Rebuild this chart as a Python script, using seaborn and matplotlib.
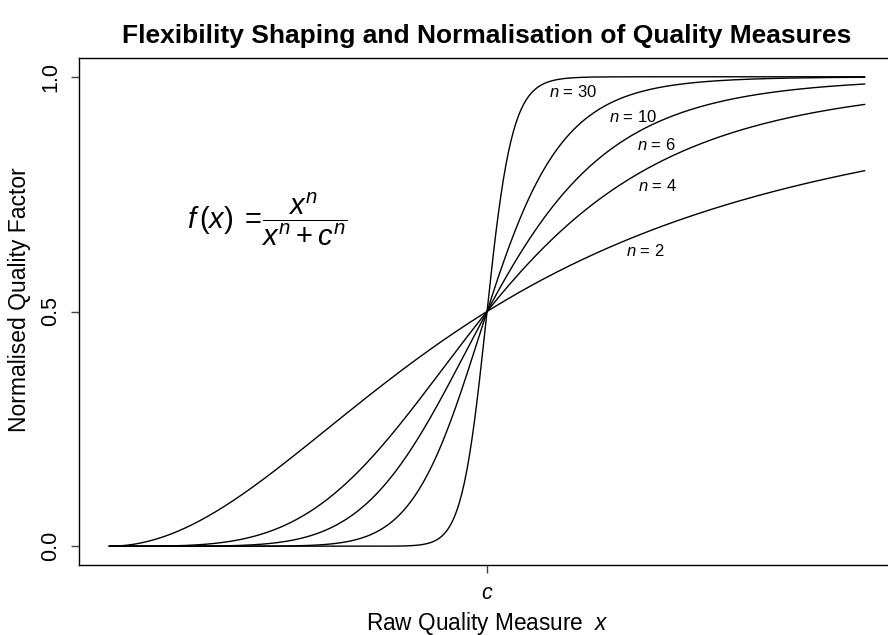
import numpy as np
import pandas as pd
import matplotlib
matplotlib.use("Agg")
import matplotlib.pyplot as plt
import seaborn as sns

# Shaping exponents and the normalisation constant
exponents = [2, 4, 6, 10, 30]
c_value = 1.0
x_tick_labels = ["c"]
y_ticks = [0.0, 0.5, 1.0]
y_tick_labels = ["0.0", "0.5", "1.0"]

# Where each curve's label is centred (data coordinates)
label_pos = {
    30: (1.228, 0.968),
    10: (1.386, 0.915),
    6: (1.447, 0.855),
    4: (1.450, 0.768),
    2: (1.418, 0.629),
}

sns.set_style("white")
plt.rcParams["font.family"] = ["Liberation Sans", "DejaVu Sans"]
plt.rcParams["mathtext.fontset"] = "custom"
plt.rcParams["mathtext.rm"] = "Liberation Sans"
plt.rcParams["mathtext.it"] = "Liberation Sans:italic"
plt.rcParams["mathtext.bf"] = "Liberation Sans:bold"
for key in ["text.color", "axes.labelcolor", "xtick.labelcolor", "ytick.labelcolor"]:
    plt.rcParams[key] = "black"

# Evaluate f(x) = x^n / (x^n + c^n) on [0, 2c]
xs = np.linspace(0, 2 * c_value, 601)
frames = []
for n in exponents:
    frames.append(pd.DataFrame({"x": xs, "f": xs**n / (xs**n + c_value**n), "n": n}))
df = pd.concat(frames, ignore_index=True)

fig = plt.figure(figsize=(8.88, 6.35), dpi=100)
W, H = 888, 635
left, right, top, bottom = 79, 895, 58, 565
ax = fig.add_axes([left / W, 1 - bottom / H, (right - left) / W, (bottom - top) / H])

sns.lineplot(data=df, x="x", y="f", hue="n", palette=["black"] * len(exponents),
             legend=False, linewidth=1.0, ax=ax)

ax.set_xlim(-0.08 * c_value, 2.08 * c_value)
ax.set_ylim(-0.04, 1.04)

for n in exponents:
    px, py = label_pos[n]
    ax.text(px, py, f"$n$ = {n}", fontsize=12, ha="center", va="center")

ax.text(0.206, 0.697, r"$f\,(x)\;=\!\dfrac{x^n}{x^n+c^n}$", fontsize=21,
        ha="left", va="center")

for s in ax.spines.values():
    s.set_visible(True)
    s.set_color("black")
    s.set_linewidth(1.0)

ax.set_xticks([c_value])
ax.set_xticklabels([f"${t}$" for t in x_tick_labels], fontsize=15.5)
ax.set_yticks(y_ticks)
ax.set_yticklabels(y_tick_labels, fontsize=15.5, rotation=90, va="center")
ax.tick_params(axis="both", direction="out", length=6, width=1, color="#444444",
               bottom=True, left=True, pad=7)

ax.set_xlabel(r"Raw Quality Measure  $x$", fontsize=16.3, labelpad=4)
ax.set_ylabel("Normalised Quality Factor", fontsize=16.5)
ax.yaxis.set_label_coords(-(79 - 31) / (895 - 79), (565 - 300) / (565 - 58))

ax.set_title("Flexibility Shaping and Normalisation of Quality Measures",
             fontsize=19, fontweight="bold", pad=11)

fig.savefig("out.png", dpi=100)
